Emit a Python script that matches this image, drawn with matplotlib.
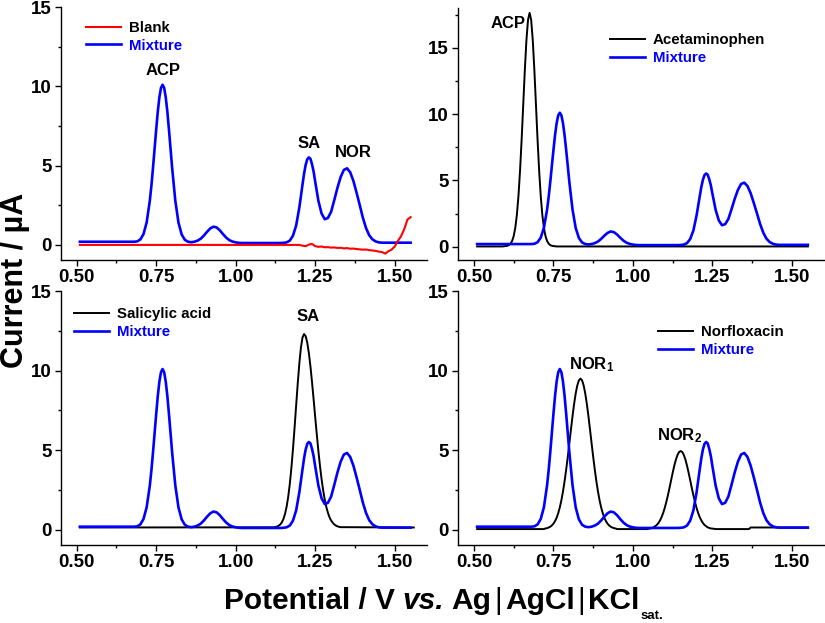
import numpy as np
import matplotlib
matplotlib.use('Agg')
import matplotlib.pyplot as plt
from matplotlib.ticker import MultipleLocator, FormatStrFormatter

plt.rcParams['font.family'] = 'Liberation Sans'
plt.rcParams['font.weight'] = 'bold'
plt.rcParams['mathtext.fontset'] = 'custom'
plt.rcParams['mathtext.rm'] = 'Liberation Sans:bold'
plt.rcParams['mathtext.it'] = 'Liberation Sans:bold:italic'
plt.rcParams['mathtext.bf'] = 'Liberation Sans:bold'

# mixture voltammogram (10 mV steps, 5 mV around the sharp peaks)
mix_v = (list(np.round(np.arange(0.51, 0.7251, 0.01), 3)) +
         list(np.round(np.arange(0.73, 0.8001, 0.005), 3)) +
         list(np.round(np.arange(0.81, 1.2051, 0.01), 3)) +
         list(np.round(np.arange(1.21, 1.2501, 0.005), 3)) +
         list(np.round(np.arange(1.26, 1.5551, 0.01), 3)))
mix_i = ([0.20] * 18 +
         [0.22, 0.34, 0.68, 1.42,
          2.80, 3.76, 4.88, 6.09, 7.29, 8.41, 9.31, 9.90, 10.10, 9.90,
          9.31, 8.41, 7.29, 6.09, 4.88,
          2.80, 1.41, 0.66, 0.32, 0.20, 0.17, 0.20, 0.27, 0.39, 0.59,
          0.83, 1.04, 1.15, 1.10, 0.92, 0.68, 0.46, 0.30, 0.21, 0.16,
          0.13] +
         [0.12] * 13 +
         [0.13, 0.16, 0.27, 0.58, 1.22, 2.35,
          3.80, 4.50, 5.05, 5.40, 5.52, 5.43, 5.08, 4.62, 3.98,
          2.78, 1.98, 1.62, 1.70, 2.09, 2.83, 3.61, 4.28, 4.73, 4.83,
          4.58, 4.04, 3.30, 2.51, 1.70, 1.05, 0.60, 0.35, 0.22, 0.16,
          0.14] +
         [0.14] * 9)

# blank electrolyte
blank_v = [0.51] + list(np.round(np.arange(1.20, 1.555, 0.01), 2))
blank_i = [0.00, 0.00, -0.05, -0.08, 0.02, 0.06, -0.08, -0.12, -0.10, -0.15,
           -0.14, -0.17, -0.16, -0.19, -0.18, -0.22, -0.20, -0.24, -0.23, -0.26,
           -0.28, -0.30, -0.29, -0.33, -0.35, -0.38, -0.42, -0.45, -0.55, -0.40,
           -0.30, -0.10, 0.25, 0.55, 1.00, 1.60, 1.75]

# acetaminophen alone
acp_v = [0.51, 0.59] + list(np.round(np.arange(0.60, 0.7525, 0.005), 3)) + [0.76, 1.55]
acp_i = ([0.02, 0.02] +
         [0.05, 0.07, 0.12, 0.23, 0.43, 0.80, 1.43, 2.41, 3.83, 5.75,
          8.09, 10.71, 13.32, 15.56, 17.09, 17.63, 17.09, 15.56, 13.32, 10.71,
          8.09, 5.75, 3.83, 2.41, 1.43, 0.80, 0.43, 0.23, 0.12, 0.07, 0.05] +
         [0.02, 0.02])

# salicylic acid alone
sa_v = [0.51] + list(np.round(np.arange(1.12, 1.3325, 0.005), 3)) + [1.56]
sa_i = ([0.15] +
        [0.16, 0.18, 0.21, 0.26, 0.34, 0.47, 0.68, 1.00, 1.45, 2.06,
         2.87, 3.87, 5.06, 6.39, 7.80, 9.19, 10.44, 11.44, 12.08, 12.30,
         12.16, 11.75, 11.11, 10.26, 9.27, 8.19, 7.07, 5.98, 4.94, 4.01,
         3.18, 2.48, 1.90, 1.43, 1.07, 0.79, 0.59, 0.45, 0.34, 0.27,
         0.22, 0.19, 0.17] +
        [0.15])

# norfloxacin alone
nor_v = ([0.51, 0.72] + list(np.round(np.arange(0.725, 0.9475, 0.005), 3)) +
         [0.95, 1.045] + list(np.round(np.arange(1.05, 1.2525, 0.005), 3)) +
         [1.26, 1.365, 1.37, 1.55])
nor_i = ([0.05, 0.05] +
         [0.09, 0.11, 0.15, 0.20, 0.28, 0.39, 0.55, 0.76, 1.05, 1.41,
          1.86, 2.41, 3.05, 3.78, 4.58, 5.43, 6.30, 7.14, 7.91, 8.57,
          9.07, 9.39, 9.50, 9.39, 9.07, 8.57, 7.91, 7.14, 6.30, 5.43,
          4.58, 3.78, 3.05, 2.41, 1.86, 1.41, 1.05, 0.76, 0.55, 0.39,
          0.28, 0.20, 0.15, 0.11, 0.09] +
         [0.05, 0.05] +
         [0.08, 0.09, 0.12, 0.16, 0.23, 0.31, 0.43, 0.59, 0.80, 1.06,
          1.38, 1.76, 2.18, 2.64, 3.12, 3.59, 4.03, 4.41, 4.70, 4.89,
          4.95, 4.89, 4.70, 4.41, 4.03, 3.59, 3.12, 2.64, 2.18, 1.76,
          1.38, 1.06, 0.80, 0.59, 0.43, 0.31, 0.23, 0.16, 0.12, 0.09,
          0.08] +
         [0.05, 0.05, 0.15, 0.15])

fig = plt.figure(figsize=(8.25, 6.23), dpi=100)
ax_tl = fig.add_axes([0.0737, 0.5827, 0.4433, 0.4060])
ax_tr = fig.add_axes([0.5552, 0.5827, 0.4433, 0.4045])
ax_bl = fig.add_axes([0.0737, 0.1252, 0.4433, 0.4077])
ax_br = fig.add_axes([0.5552, 0.1252, 0.4433, 0.4077])

BLUE = '#0000ff'

# top left: blank vs mixture
ax_tl.plot(mix_v, mix_i, color=BLUE, lw=1.9, label='Mixture', zorder=2)
ax_tl.plot(blank_v, blank_i, color='#ff0000', lw=1.5, label='Blank', zorder=3)
ax_tl.set_ylim(-0.95, 15)

# top right
ax_tr.plot(acp_v, acp_i, color='black', lw=1.4, label='Acetaminophen', zorder=2)
ax_tr.plot(mix_v, mix_i, color=BLUE, lw=1.9, label='Mixture', zorder=3)
ax_tr.set_ylim(-1.0, 18)

# bottom left
ax_bl.plot(sa_v, sa_i, color='black', lw=1.4, label='Salicylic acid', zorder=2)
ax_bl.plot(mix_v, mix_i, color=BLUE, lw=1.9, label='Mixture', zorder=3)
ax_bl.set_ylim(-0.95, 15)

# bottom right
ax_br.plot(nor_v, nor_i, color='black', lw=1.4, label='Norfloxacin', zorder=2)
ax_br.plot(mix_v, mix_i, color=BLUE, lw=1.9, label='Mixture', zorder=3)
ax_br.set_ylim(-0.95, 15)

for ax in [ax_tl, ax_tr, ax_bl, ax_br]:
    ax.set_xlim(0.45, 1.60)
    ax.spines['top'].set_visible(False)
    ax.spines['right'].set_visible(False)
    ax.spines['left'].set_linewidth(1.0)
    ax.spines['bottom'].set_linewidth(1.0)
    ax.xaxis.set_major_locator(MultipleLocator(0.25))
    ax.xaxis.set_minor_locator(MultipleLocator(0.125))
    ax.yaxis.set_major_locator(MultipleLocator(5))
    ax.yaxis.set_minor_locator(MultipleLocator(2.5))
    ax.xaxis.set_major_formatter(FormatStrFormatter('%.2f'))
    ax.tick_params(which='major', direction='out', length=4, width=1.0,
                   labelsize=13.5, pad=2.5)
    ax.tick_params(which='minor', direction='out', length=2.5, width=1.0)
    for lab in ax.get_xticklabels() + ax.get_yticklabels():
        lab.set_fontweight('bold')

# legends (order: single compound first, then mixture)
legend_spots = {
    ax_tl: (0.1042, 0.9663),
    ax_tr: (0.7394, 0.9470),
    ax_bl: (0.0897, 0.5065),
    ax_br: (0.7976, 0.4783),
}
for ax, spot in legend_spots.items():
    h, l = ax.get_legend_handles_labels()
    if ax is ax_tl:
        h, l = h[::-1], l[::-1]
    leg = ax.legend(h, l, loc='upper left', bbox_to_anchor=spot,
                    bbox_transform=fig.transFigure, frameon=False,
                    prop={'size': 10.8, 'weight': 'bold'}, handlelength=2.35,
                    handletextpad=0.5, labelspacing=0.25, borderpad=0,
                    borderaxespad=0)
    leg.get_texts()[1].set_color(BLUE)

# peak labels
ax_tl.text(0.771, 11.0, 'ACP', ha='center', va='center', fontsize=12, fontweight='bold')
ax_tl.text(1.230, 6.4, 'SA', ha='center', va='center', fontsize=12, fontweight='bold')
ax_tl.text(1.369, 5.8, 'NOR', ha='center', va='center', fontsize=12, fontweight='bold')
ax_tr.text(0.606, 16.8, 'ACP', ha='center', va='center', fontsize=12, fontweight='bold')
ax_bl.text(1.228, 13.4, 'SA', ha='center', va='center', fontsize=12, fontweight='bold')
ax_br.text(0.800, 10.1, r'NOR$_1$', ha='left', va='baseline', fontsize=12, fontweight='bold')
ax_br.text(1.076, 5.64, r'NOR$_2$', ha='left', va='baseline', fontsize=12, fontweight='bold')

fig.text(0.018, 0.5506, 'Current / µA', rotation=90, ha='center', va='center',
         fontsize=22, fontweight='bold')

# x label built piece by piece: bold words, italic "vs.", thin bars, small "sat."
renderer = fig.canvas.get_renderer()
W = fig.bbox.width


def put(x, y, s, gap, **kw):
    t = fig.text(x, y, s, ha='left', va='baseline', **kw)
    return t.get_window_extent(renderer).x1 / W + gap / W


base = 0.0225
x = 0.2715
x = put(x, base, 'Potential / V', 8, fontsize=21.5, fontweight='bold')
x = put(x, base, 'vs.', 7, fontsize=21.5, fontweight='bold', fontstyle='italic')
x = put(x, base, 'Ag', 3, fontsize=21.5, fontweight='bold')
x = put(x, base, '|', 3, fontsize=21.5, fontweight='normal')
x = put(x, base, 'AgCl', 3, fontsize=21.5, fontweight='bold')
x = put(x, base, '|', 3, fontsize=21.5, fontweight='normal')
x = put(x, base, 'KCl', 1, fontsize=21.5, fontweight='bold')
put(x, 0.0065, 'sat.', 0, fontsize=9.5, fontweight='bold')

fig.savefig('out.png', dpi=100)
